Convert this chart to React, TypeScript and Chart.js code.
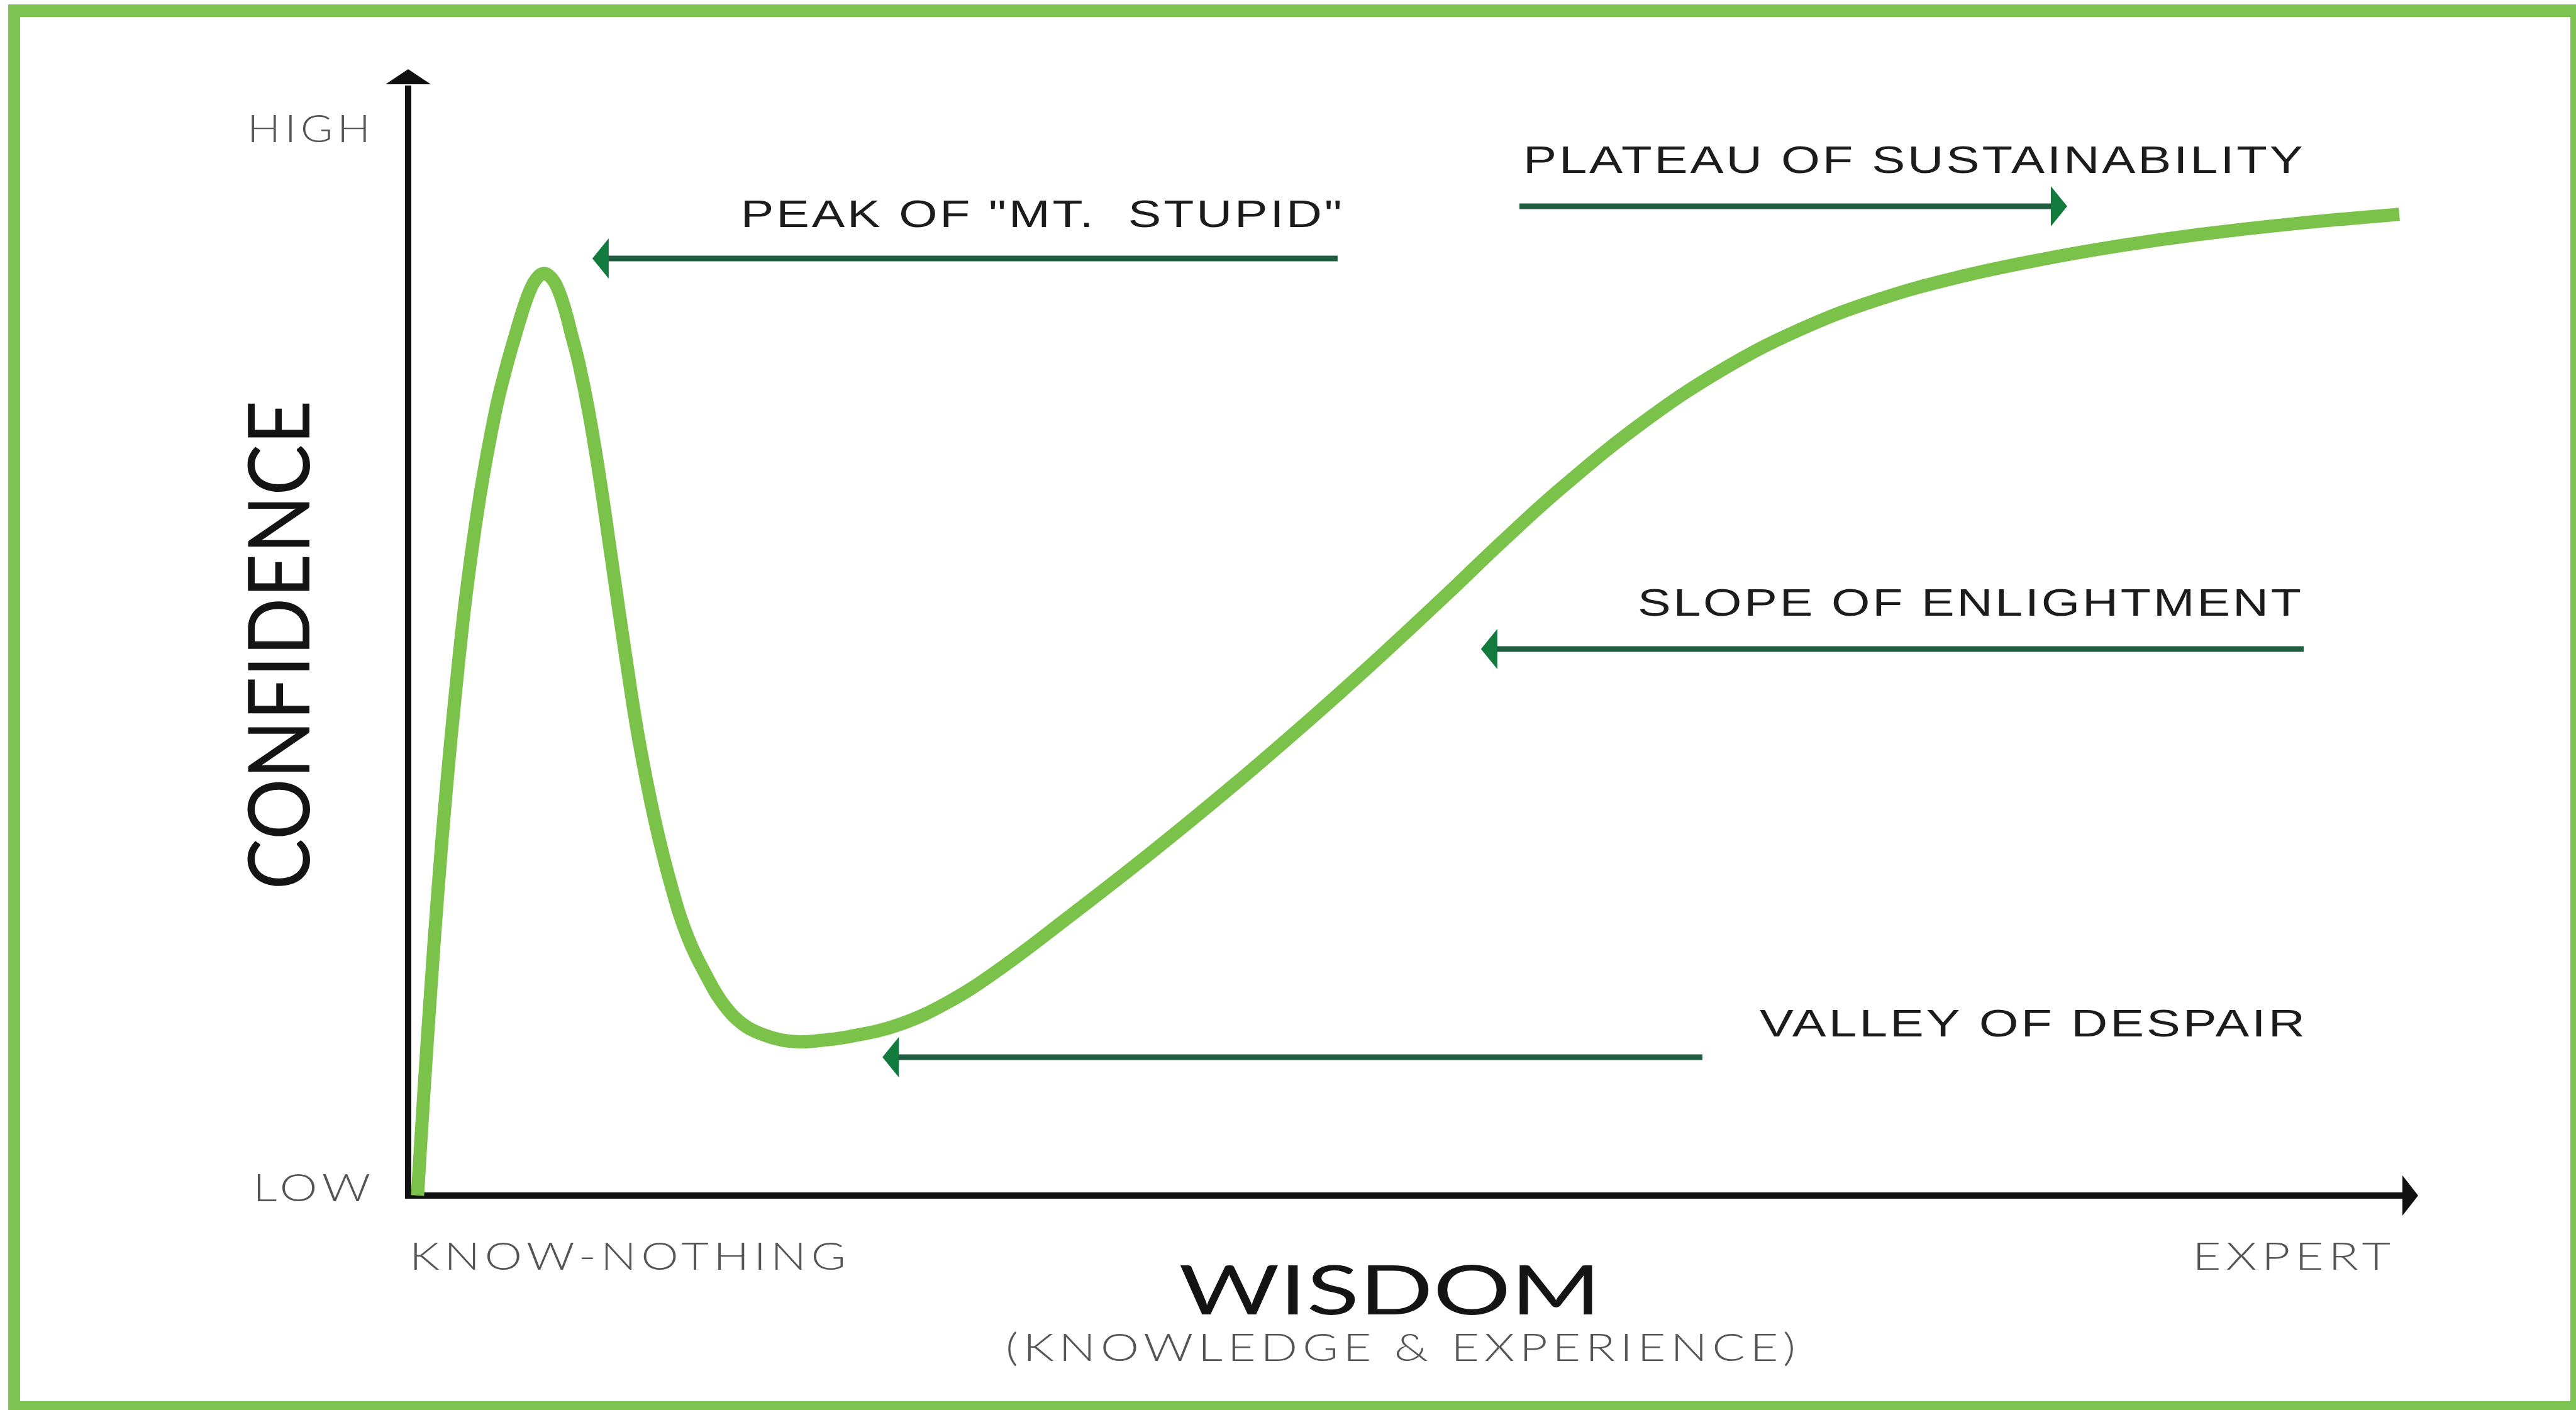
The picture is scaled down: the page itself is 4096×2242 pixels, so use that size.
import React, { useEffect, useRef } from 'react';
import { Chart, registerables } from 'chart.js';

Chart.register(...registerables);

// ---- Data (x = wisdom 0..100, y = confidence 0..100) ----
const wisdom = [
  0.47, 0.785, 1.15, 1.51, 1.92, 2.39, 2.93, 3.63, 4.39, 4.96, 5.36, 5.78, 6.11, 6.42, 6.79,
  7.14, 7.47, 7.84, 8.21, 8.59, 9.06, 9.61, 10.21, 10.93, 11.58, 12.4, 13.23, 14.03, 15.02, 15.88,
  16.87, 17.86, 18.77, 19.68, 20.75, 22.07, 24.63, 27.1, 29.58, 33.13, 37.25, 41.38, 45.5, 48.8,
  52.1, 54.99, 58, 62, 66, 70, 74, 78, 82, 86, 90, 95, 100,
];
const confidence = [
  0, 9.51, 19.67, 28.9, 38.14, 47.37, 56.61, 65.84, 73.54, 77.85, 80.47, 83.08, 84.78, 85.85, 86.39,
  86.08, 85.16, 83.24, 80.62, 77.85, 73.54, 67.38, 59.69, 50.45, 42.76, 35.06, 28.9, 24.29, 20.44, 17.82,
  15.97, 15.05, 14.56, 14.4, 14.54, 14.86, 16.0, 18.1, 21.05, 26.04, 32.03, 38.34, 44.96, 50.49,
  56.22, 61.35, 66.42, 72.42, 77.38, 81.22, 84.06, 86.12, 87.7, 89.0, 90.06, 91.11, 91.94,
];

const xTickValues = [0, 100];
const xTickLabels = ['KNOW-NOTHING', 'EXPERT'];
const yTickValues = [0, 100];
const yTickLabels = ['LOW', 'HIGH'];
const yTitle = 'CONFIDENCE';
const xTitle = 'WISDOM';
const xSubtitle = '(KNOWLEDGE & EXPERIENCE)';

// Stage annotations (in data units)
const stageLabels = ['PEAK OF "MT.  STUPID"', 'PLATEAU OF SUSTAINABILITY', 'SLOPE OF ENLIGHTMENT', 'VALLEY OF DESPAIR'];
const stageArrowFrom = [46.68, 55.81, 95.2, 65.0];
const stageArrowTo = [9.25, 83.32, 53.88, 23.82];
const stageArrowLevel = [87.8, 92.69, 51.21, 12.96];
const stageLabelX = [46.9, 56.0, 95.07, 95.26];
const stageLabelY = [90.75, 95.82, 54.33, 14.91];
const stageLabelAlign = ['right', 'left', 'right', 'right'];

// ---- Styles ----
const W = 4096;
const H = 2242;
const FRAME = '#7dc352';
const CURVE = '#7bc24a';
const ARROW_LINE = '#215e41';
const ARROW_HEAD = '#117a3c';
const AXIS = '#111111';

// Draws text so that its visible width equals `width`: fixed tracking, then horizontal stretch.
function drawText(
  ctx: CanvasRenderingContext2D,
  text: string,
  x: number,
  y: number,
  align: string,
  font: string,
  color: string,
  width: number,
  tracking = 0
) {
  ctx.save();
  ctx.font = font;
  ctx.fillStyle = color;
  ctx.textBaseline = 'alphabetic';
  ctx.textAlign = 'left';
  (ctx as any).letterSpacing = '0px';
  const n = Array.from(text).length;
  const w0 = ctx.measureText(text).width;
  const w = w0 + tracking * (n - 1);
  (ctx as any).letterSpacing = tracking + 'px';
  const sx = align === 'left' ? x : align === 'right' ? x - width : x - width / 2;
  ctx.translate(sx, y);
  ctx.scale(width / w, 1);
  ctx.fillText(text, 0, 0);
  ctx.restore();
}

const framePlugin = {
  id: 'frame',
  beforeDraw(chart: any) {
    const ctx = chart.ctx as CanvasRenderingContext2D;
    ctx.save();
    ctx.fillStyle = '#ffffff';
    ctx.fillRect(0, 0, W, H);
    ctx.fillStyle = FRAME;
    ctx.fillRect(13, 7, W - 13, 20); // top
    ctx.fillRect(13, 7, 19, H - 7); // left
    ctx.fillRect(4087, 7, W - 4087, H - 7); // right
    ctx.fillRect(13, 2228, W - 13, H - 2228); // bottom
    ctx.restore();
  },
};

const decorPlugin = {
  id: 'decor',
  afterDraw(chart: any) {
    const ctx = chart.ctx as CanvasRenderingContext2D;
    const xs = chart.scales.x;
    const ys = chart.scales.y;
    const area = chart.chartArea;
    const x0 = xs.getPixelForValue(0);
    const y0 = ys.getPixelForValue(0);

    // axis extensions + arrowheads
    ctx.save();
    ctx.strokeStyle = AXIS;
    ctx.fillStyle = AXIS;
    ctx.lineWidth = 10;
    ctx.beginPath();
    ctx.moveTo(x0, area.top + 2);
    ctx.lineTo(x0, area.top - 68);
    ctx.stroke();
    ctx.beginPath();
    ctx.moveTo(x0 - 36, area.top - 70);
    ctx.lineTo(x0 + 36, area.top - 70);
    ctx.lineTo(x0, area.top - 94);
    ctx.closePath();
    ctx.fill();
    ctx.beginPath();
    ctx.moveTo(area.right - 2, y0);
    ctx.lineTo(area.right + 7, y0);
    ctx.stroke();
    ctx.beginPath();
    ctx.moveTo(area.right + 5, y0 - 32);
    ctx.lineTo(area.right + 5, y0 + 32);
    ctx.lineTo(area.right + 30, y0);
    ctx.closePath();
    ctx.fill();
    ctx.restore();

    // tick labels
    const tickFont = '300 62px Lato';
    const tickColor = '#555555';
    const xTickAlign = ['left', 'right'];
    const xTickWidth = [694, 315];
    xTickValues.forEach((v, i) => {
      const px = xs.getPixelForValue(v) + (i === 0 ? 2 : -14);
      drawText(ctx, xTickLabels[i], px, y0 + 118, xTickAlign[i], tickFont, tickColor, xTickWidth[i], 6);
    });
    const yTickWidth = [187, 196];
    const yTickOff = [9, 22];
    yTickValues.forEach((v, i) => {
      const py = ys.getPixelForValue(v) + yTickOff[i];
      drawText(ctx, yTickLabels[i], x0 - 60, py, 'right', tickFont, tickColor, yTickWidth[i], 6);
    });

    // axis titles
    ctx.save();
    ctx.translate(x0 - 157, (area.top + area.bottom) / 2 - 27);
    ctx.rotate(-Math.PI / 2);
    drawText(ctx, yTitle, 0, 0, 'center', '400 135px Lato', '#141414', 778, 0);
    ctx.restore();
    drawText(ctx, xTitle, 2210, y0 + 189, 'center', '400 109px Lato', '#141414', 671, 0);
    drawText(ctx, xSubtitle, 2227, y0 + 263, 'center', '300 61px Lato', '#555555', 1256, 6);

    // stage arrows + labels
    const stageWidth = [956, 1240, 1055, 867];
    stageLabels.forEach((label, i) => {
      const fx = xs.getPixelForValue(stageArrowFrom[i]);
      const tx = xs.getPixelForValue(stageArrowTo[i]);
      const ly = ys.getPixelForValue(stageArrowLevel[i]);
      const dir = tx > fx ? 1 : -1;
      const baseX = tx - dir * 26;
      ctx.save();
      ctx.strokeStyle = ARROW_LINE;
      ctx.lineWidth = 9;
      ctx.lineCap = 'butt';
      ctx.beginPath();
      ctx.moveTo(fx, ly);
      ctx.lineTo(baseX + dir * 2, ly);
      ctx.stroke();
      ctx.fillStyle = ARROW_HEAD;
      ctx.beginPath();
      ctx.moveTo(baseX, ly - 32);
      ctx.lineTo(tx, ly);
      ctx.lineTo(baseX, ly + 32);
      ctx.closePath();
      ctx.fill();
      ctx.restore();

      drawText(
        ctx,
        label,
        xs.getPixelForValue(stageLabelX[i]),
        ys.getPixelForValue(stageLabelY[i]),
        stageLabelAlign[i],
        '400 62px "Liberation Sans"',
        '#1c1c1c',
        stageWidth[i],
        3
      );
    });
  },
};

export default function App() {
  const ref = useRef<HTMLCanvasElement | null>(null);

  useEffect(() => {
    document.body.style.margin = '0';
    const canvas = ref.current;
    if (!canvas) return;
    const chart = new Chart(canvas, {
      type: 'line',
      data: {
        datasets: [
          {
            data: wisdom.map((x, i) => ({ x, y: confidence[i] })),
            borderColor: CURVE,
            borderWidth: 21,
            pointRadius: 0,
            pointHoverRadius: 0,
            tension: 0.4,
            fill: false,
            clip: false,
            borderCapStyle: 'butt',
            borderJoinStyle: 'round',
          } as any,
        ],
      },
      options: {
        responsive: false,
        animation: false,
        devicePixelRatio: 1,
        events: [],
        layout: { padding: { left: 649, right: 281, top: 204, bottom: 341 }, autoPadding: false } as any,
        plugins: {
          legend: { display: false },
          tooltip: { enabled: false },
          title: { display: false },
        },
        scales: {
          x: {
            type: 'linear',
            min: 0,
            max: 100,
            position: 'bottom',
            grid: { display: false, drawTicks: false },
            ticks: { display: false },
            border: { display: true, color: AXIS, width: 10 },
            afterFit: (s: any) => {
              s.height = 0;
            },
          },
          y: {
            type: 'linear',
            min: 0,
            max: 100,
            position: 'left',
            grid: { display: false, drawTicks: false },
            ticks: { display: false },
            border: { display: true, color: AXIS, width: 10 },
            afterFit: (s: any) => {
              s.width = 0;
            },
          },
        },
      } as any,
      plugins: [framePlugin, decorPlugin],
    });
    return () => chart.destroy();
  }, []);

  return (
    <div style={{ position: 'fixed', left: 0, top: 0, width: W, height: H, overflow: 'hidden', background: '#fff' }}>
      <canvas ref={ref} width={W} height={H} style={{ display: 'block', width: W, height: H }} />
    </div>
  );
}
